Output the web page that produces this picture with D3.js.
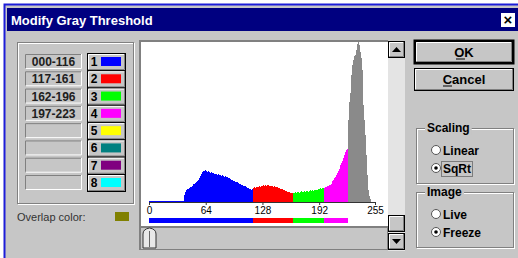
<!DOCTYPE html>
<html>
<head>
<meta charset="utf-8">
<script src="https://cdn.jsdelivr.net/npm/d3@7"></script>
<style>
  html, body { margin: 0; padding: 0; background: #fff; }
  svg { display: block; font-family: "Liberation Sans", Arial, sans-serif; }
</style>
</head>
<body>
<svg id="dlg" width="518" height="258"></svg>
<script>
// histogram counts per gray level (sqrt scaled display)
const blueCounts = [
  1,1,1,1,1,1,1,1,1,1, 1,1,1,1,1,1,1,1,1,1, 1,1,1,1,1,1,1,1,1,1, 1,1,1,1,1,1,1,1,1,
  64,49,100,144,169,169,196,225,225,256, 256,324,324,361,400,441,484,576,625,676,
  784,900,961,961,1024,961,1024,900,961,900, 841,900,841,841,784,841,784,784,729,784,
  729,729,676,729,676,676,625,676,625,625, 576,576,529,529,484,484,441,441,400,400,
  400,361,361,324,324,289,289,256,256,256, 225,225,196,196,169,169,144,169];
const redCounts = [
  196,196,225,196,225,225,225,256,225,256, 256,256,289,256,289,256,289,289,256,289,
  256,256,256,225,256,225,225,225,196,196, 196,169,169,169,144,144,121,121,121,100,
  100,100,81,81,81];
const greenCounts = [
  64,81,81,100,81,100,100,81,100,100, 121,100,100,121,100,121,121,100,121,121,
  144,121,144,121,144,144,144,169,144,169, 169,196,169,196,196];
const magentaCounts = [
  196,196,225,225,256,256,289,289,324,361, 441,484,576,625,729,841,961,1089,1225,1369,
  1521,1681,1936,2209,2500,2704,2809];
const grayCounts = [
  4900,6724,10000,11881,16129,18769,20164,21316,21609,21316,
  23104,24964,25600,24649,22500,20736,17424,12544,9409,6724,
  4489,2209,729,144,36,9,1,0,0,0, 0,0];

const rangeLabels = ["000-116", "117-161", "162-196", "197-223", "", "", "", ""];
const rangeLo = [0, 117, 162, 197];
const rangeHi = [116, 161, 196, 223];
const slotNumbers = ["1", "2", "3", "4", "5", "6", "7", "8"];
const slotColors = ["#0000ff", "#ff0000", "#00ff00", "#ff00ff", "#ffff00", "#008080", "#800080", "#00ffff"];
const histColors = ["#0000ff", "#ff0000", "#00ff00", "#ff00ff", "#8a8a8a"];
const tickValues = [0, 64, 128, 192, 255];

const svg = d3.select("#dlg");
const face = "#c6c6c6";

// window frame + title
svg.append("rect").attr("x", 0).attr("y", 0).attr("width", 518).attr("height", 258).attr("fill", "#fff");
svg.append("rect").attr("x", 4.5).attr("y", 4.5).attr("width", 520).attr("height", 260)
  .attr("fill", face).attr("stroke", "#1c1cd8").attr("stroke-width", 2);
svg.append("rect").attr("x", 7).attr("y", 8).attr("width", 511).attr("height", 23).attr("fill", "#000080");
svg.append("text").attr("x", 11).attr("y", 25).attr("fill", "#fff")
  .style("font-size", "13px").style("font-weight", "bold").text("Modify Gray Threshold");
svg.append("rect").attr("x", 501).attr("y", 13).attr("width", 14).attr("height", 14).attr("fill", "#fff");
svg.append("text").attr("x", 508).attr("y", 25).attr("text-anchor", "middle")
  .style("font-size", "15px").style("font-weight", "bold").text("×");

// helper boxes
function sunken(x, y, w, h, fill) {
  svg.append("rect").attr("x", x).attr("y", y).attr("width", w).attr("height", h).attr("fill", fill || face);
  svg.append("path").attr("d", `M${x + 0.5},${y + h}V${y + 0.5}H${x + w}`).attr("fill", "none").attr("stroke", "#808080");
  svg.append("path").attr("d", `M${x + 0.5},${y + h - 0.5}H${x + w - 0.5}V${y}`).attr("fill", "none").attr("stroke", "#fff");
}
function raised(x, y, w, h) {
  svg.append("rect").attr("x", x + 0.5).attr("y", y + 0.5).attr("width", w - 1).attr("height", h - 1)
    .attr("fill", face).attr("stroke", "#000");
  svg.append("path").attr("d", `M${x + 1.5},${y + h - 2}V${y + 1.5}H${x + w - 2}`).attr("fill", "none").attr("stroke", "#fff");
  svg.append("path").attr("d", `M${x + 1.5},${y + h - 1.5}H${x + w - 1.5}V${y + 1}`).attr("fill", "none").attr("stroke", "#808080");
}
function etched(x, y, w, h) {
  svg.append("rect").attr("x", x + 1.5).attr("y", y + 1.5).attr("width", w).attr("height", h).attr("fill", "none").attr("stroke", "#fff");
  svg.append("rect").attr("x", x + 0.5).attr("y", y + 0.5).attr("width", w).attr("height", h).attr("fill", "none").attr("stroke", "#808080");
}

// left panel: threshold ranges
etched(17, 42, 116, 161);
const rowY = d3.scaleLinear().domain([0, 7]).range([54, 175]);
rangeLabels.forEach((lab, i) => {
  sunken(25, rowY(i), 57, 15);
  svg.append("text").attr("x", 53.5).attr("y", rowY(i) + 12).attr("text-anchor", "middle")
    .style("font-size", "12px").style("font-weight", "bold").attr("fill", "#202020").text(lab);
  raised(87, rowY(i) - 1, 39, 18);
  svg.append("text").attr("x", 94).attr("y", rowY(i) + 12).attr("text-anchor", "middle")
    .style("font-size", "12px").style("font-weight", "bold").text(slotNumbers[i]);
  svg.append("rect").attr("x", 101).attr("y", rowY(i) + 3).attr("width", 20).attr("height", 9)
    .attr("fill", slotColors[i]);
});
svg.append("text").attr("x", 17).attr("y", 221).style("font-size", "11px").attr("fill", "#333").text("Overlap color:");
svg.append("rect").attr("x", 115).attr("y", 212).attr("width", 14).attr("height", 9).attr("fill", "#808000");

// histogram panel
svg.append("rect").attr("x", 139).attr("y", 40).attr("width", 249).attr("height", 186).attr("fill", "#808080");
svg.append("rect").attr("x", 141).attr("y", 42).attr("width", 247).attr("height", 184).attr("fill", "#fff");

const x = d3.scaleLinear().domain([0, 255]).range([149, 375]);
const y = d3.scaleSqrt().domain([0, 25600]).range([202, 42]);

const segments = [blueCounts, redCounts, greenCounts, magentaCounts, grayCounts];
let start = 0;
segments.forEach((counts, k) => {
  const pts = counts.map((c, i) => [start + i, c]);
  pts.push([start + counts.length, counts[counts.length - 1]]);
  const area = d3.area().curve(d3.curveStepAfter)
    .x(d => x(d[0])).y0(y(0)).y1(d => y(d[1]));
  svg.append("path").attr("d", area(pts)).attr("fill", histColors[k]).attr("shape-rendering", "crispEdges");
  start += counts.length;
});

// axis
const axis = d3.axisBottom(x).tickValues(tickValues).tickSize(3).tickSizeOuter(0);
const gAxis = svg.append("g").attr("transform", "translate(0,202)").call(axis);
gAxis.select(".domain").attr("stroke", "#333");
gAxis.selectAll(".tick line").attr("stroke", "#333");
gAxis.selectAll(".tick text").attr("y", 5).style("font-size", "10px").style("font-family", "Liberation Sans, Arial, sans-serif").attr("fill", "#000");

// threshold colour bar
rangeLo.forEach((lo, i) => {
  svg.append("rect").attr("x", x(lo)).attr("y", 218).attr("width", x(rangeHi[i] + 1) - x(lo)).attr("height", 5)
    .attr("fill", slotColors[i]).attr("shape-rendering", "crispEdges");
});

// vertical scrollbar
svg.append("rect").attr("x", 388).attr("y", 41).attr("width", 17).attr("height", 210).attr("fill", "#e4e4e4");
raised(388, 41, 17, 17);
svg.append("path").attr("d", "M392,52h9l-4.5,-5z").attr("fill", "#000");
raised(388, 215, 17, 17);
raised(388, 233, 17, 17);
svg.append("path").attr("d", "M392,239h9l-4.5,5z").attr("fill", "#000");

// bottom slider
svg.append("rect").attr("x", 139).attr("y", 226).attr("width", 249).attr("height", 24).attr("fill", "#808080");
svg.append("rect").attr("x", 141).attr("y", 228).attr("width", 246).attr("height", 21).attr("fill", face);
svg.append("path").attr("d", "M143,248V234Q143,229 149.5,228Q156,229 156,234V248Z").attr("fill", "#e8e8e8").attr("stroke", "#333");
svg.append("path").attr("d", "M149.5,231V247").attr("stroke", "#666");

// right buttons
svg.append("rect").attr("x", 414.5).attr("y", 40.5).attr("width", 99).attr("height", 23).attr("fill", "none").attr("stroke", "#000").attr("stroke-width", 2);
raised(415, 41, 98, 22);
svg.append("text").attr("x", 464).attr("y", 57).attr("text-anchor", "middle").style("font-size", "13px").style("font-weight", "bold").text("OK");
svg.append("path").attr("d", "M456,59h9").attr("stroke", "#000");
raised(414, 68, 100, 23);
svg.append("text").attr("x", 464).attr("y", 84).attr("text-anchor", "middle").style("font-size", "13px").style("font-weight", "bold").text("Cancel");
svg.append("path").attr("d", "M443,86h9").attr("stroke", "#000");

// radio groups
function group(yTop, h, label, opts, checked, focus) {
  etched(416, yTop, 97, h);
  const bg = svg.append("rect").attr("fill", face);
  const t = svg.append("text").attr("x", 427).attr("y", yTop + 4).style("font-size", "12px").style("font-weight", "bold").text(label);
  const bb = t.node().getBBox();
  bg.attr("x", bb.x - 2).attr("y", bb.y).attr("width", bb.width + 4).attr("height", bb.height);
  opts.forEach((o, i) => {
    const cy = yTop + 22 + i * 18;
    svg.append("circle").attr("cx", 436).attr("cy", cy).attr("r", 4.5).attr("fill", "#fff").attr("stroke", "#555");
    if (i === checked) svg.append("circle").attr("cx", 436).attr("cy", cy).attr("r", 1.8).attr("fill", "#000");
    const lt = svg.append("text").attr("x", 443).attr("y", cy + 4.5).style("font-size", "12px").style("font-weight", "bold").text(o);
    if (focus && i === checked) {
      const b = lt.node().getBBox();
      svg.append("rect").attr("x", Math.round(b.x) - 1.5).attr("y", Math.round(b.y) - 0.5)
        .attr("width", Math.round(b.width) + 3).attr("height", Math.round(b.height) + 1)
        .attr("fill", "none").attr("stroke", "#333").attr("stroke-dasharray", "1,1");
    }
  });
}
group(128, 55, "Scaling", ["Linear", "SqRt"], 1, true);
group(192, 55, "Image", ["Live", "Freeze"], 1, false);
</script>
</body>
</html>
